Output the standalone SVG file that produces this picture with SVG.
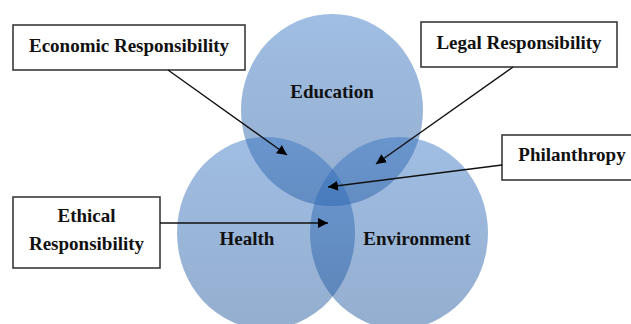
<svg xmlns="http://www.w3.org/2000/svg" width="631" height="324" viewBox="0 0 631 324">
<defs>
<linearGradient id="g" x1="0" y1="0" x2="0" y2="1">
<stop offset="0" stop-color="#3573c3"/>
<stop offset="1" stop-color="#1b5399"/>
</linearGradient>
<marker id="ah" viewBox="0 0 10 10" refX="10" refY="5" markerWidth="10" markerHeight="10" markerUnits="userSpaceOnUse" orient="auto">
<path d="M0,0 L10,5 L0,10 z" fill="#000"/>
</marker>
<style>
.c{fill:url(#g);fill-opacity:0.47}
.b{fill:#fff;stroke:#3a3a3a;stroke-width:1.6}
.t{font-family:"Liberation Serif","Times New Roman",serif;font-weight:bold;font-size:19px;fill:#111;text-anchor:middle}
.a{stroke:#111;stroke-width:1.4;fill:none;marker-end:url(#ah)}
</style>
</defs>
<rect width="631" height="324" fill="#fff"/>
<g id="education"><ellipse class="c" cx="332" cy="110" rx="91" ry="96"/><text class="t" x="332" y="98">Education</text></g>
<g id="health"><ellipse class="c" cx="266" cy="233" rx="89" ry="96"/><text class="t" x="247" y="245">Health</text></g>
<g id="environment"><ellipse class="c" cx="399" cy="233" rx="89" ry="96"/><text class="t" x="417" y="245">Environment</text></g>
<g id="economic"><rect class="b" x="13" y="25" width="232" height="45"/><text class="t" x="129" y="52">Economic Responsibility</text></g>
<g id="legal"><rect class="b" x="421" y="22" width="196" height="45"/><text class="t" x="519" y="49">Legal Responsibility</text></g>
<g id="philanthropy"><rect class="b" x="502" y="135" width="140" height="45"/><text class="t" x="572" y="161">Philanthropy</text></g>
<g id="ethical"><rect class="b" x="13" y="197" width="147" height="71"/><text class="t" x="86.5" y="222">Ethical</text><text class="t" x="86.5" y="250">Responsibility</text></g>
<g id="connectors">
<line class="a" x1="168" y1="70" x2="287" y2="155"/>
<line class="a" x1="513" y1="67" x2="376" y2="164"/>
<line class="a" x1="502" y1="165" x2="328" y2="187"/>
<line class="a" x1="160" y1="223" x2="328" y2="223"/>
</g>
</svg>
